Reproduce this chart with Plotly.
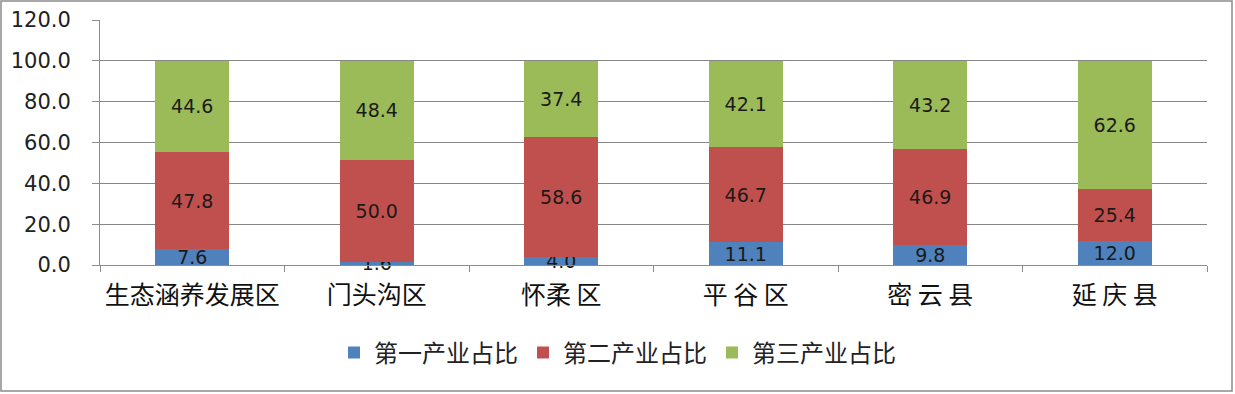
import plotly.graph_objects as go

categories = ["生态涵养发展区", "门头沟区", "怀柔 区", "平 谷 区", "密 云 县", "延 庆 县"]
primary = [7.6, 1.6, 4.0, 11.1, 9.8, 12.0]
secondary = [47.8, 50.0, 58.6, 46.7, 46.9, 25.4]
tertiary = [44.6, 48.4, 37.4, 42.1, 43.2, 62.6]
series_names = ["第一产业占比", "第二产业占比", "第三产业占比"]
colors = ["#4F81BD", "#C0504D", "#9BBB59"]
y_ticks = [0, 20, 40, 60, 80, 100, 120]

FONT = "DejaVu Sans, Noto Sans CJK SC, sans-serif"
CJK = "Noto Sans CJK SC, sans-serif"
W, H = 1235, 394
ML, MR, MT, MB = 100, 28, 20, 129

fig = go.Figure()
for name, vals, col in zip(series_names, [primary, secondary, tertiary], colors):
    fig.add_trace(go.Bar(
        x=categories, y=vals, name=name, marker=dict(color=col, line=dict(width=0)),
        text=[f"{v:.1f}" for v in vals], textposition="inside", insidetextanchor="middle",
        textfont=dict(family=FONT, size=19, color="#1a1a1a"), constraintext="none",
        cliponaxis=False,
    ))

pw = W - ML - MR
ph = H - MT - MB
fig.update_layout(
    barmode="stack", bargap=0.6,
    width=W, height=H,
    margin=dict(l=ML, r=MR, t=MT, b=MB, autoexpand=False),
    paper_bgcolor="white", plot_bgcolor="white",
    font=dict(family=FONT, size=19, color="#222"),
    uniformtext=dict(minsize=19, mode="show"),
    legend=dict(orientation="h", x=(W / 2 - ML) / pw, xanchor="center",
                y=(MT + ph - 353) / ph, yanchor="middle",
                font=dict(family=CJK, size=24, color="#222"),
                itemwidth=30, traceorder="normal"),
    xaxis=dict(showline=True, linecolor="#8c8c8c", linewidth=1, ticks="outside",
               tickson="boundaries", ticklen=6, tickcolor="#8c8c8c",
               ticklabelstandoff=8,
               showgrid=False, tickfont=dict(family=CJK, size=25, color="#111")),
    yaxis=dict(range=[0, 120], tickvals=y_ticks, ticktext=[f"{v:.1f}" for v in y_ticks],
               showline=True, linecolor="#8c8c8c", linewidth=1, ticks="outside",
               ticklen=7, tickcolor="#8c8c8c", showgrid=True, gridcolor="#868686",
               gridwidth=1.3, zeroline=False, ticklabelstandoff=17,
               tickfont=dict(family=FONT, size=21, color="#222")),
    shapes=[dict(type="rect", xref="paper", yref="paper",
                 x0=-(ML - 1) / pw, x1=(pw + MR - 3) / pw,
                 y0=-(MB - 3) / ph, y1=(ph + MT - 1) / ph,
                 line=dict(color="#8c8c8c", width=1.5), fillcolor="rgba(0,0,0,0)", layer="below")],
)

fig.write_html("out.html", config={"displayModeBar": False},
               post_script="document.body.style.margin='0';document.body.style.overflow='hidden';")
